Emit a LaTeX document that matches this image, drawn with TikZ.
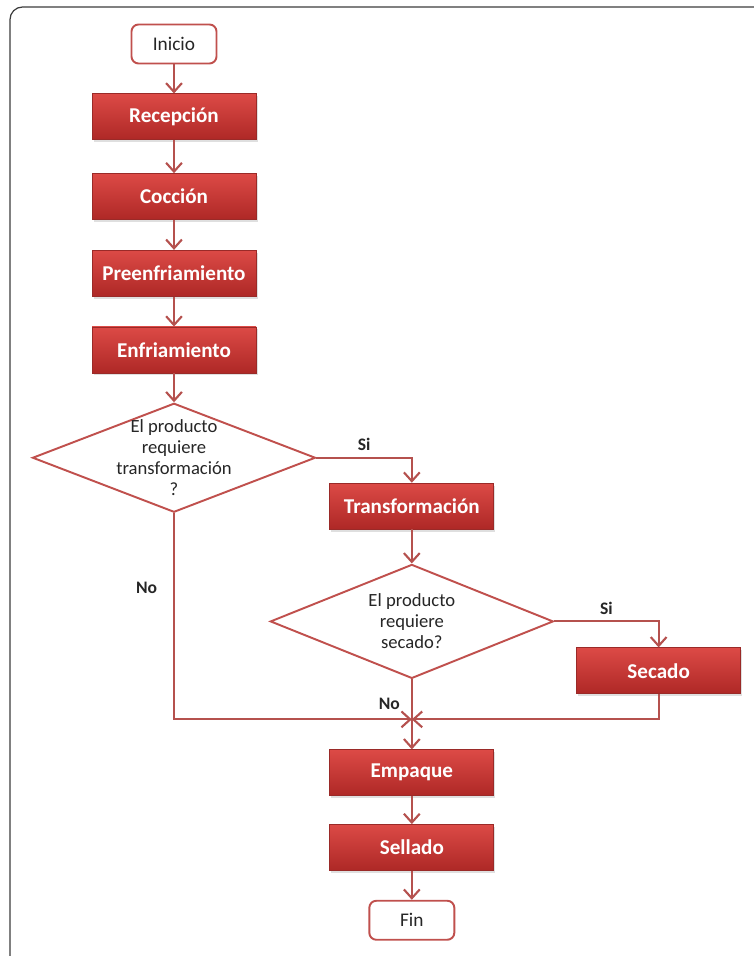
\documentclass[tikz,border=0pt]{standalone}
\usepackage{fontspec}
\setmainfont{Carlito}
\usetikzlibrary{arrows.meta,positioning,shapes.geometric,calc,shadows}
\definecolor{boxtop}{HTML}{DC4A46}
\definecolor{boxbot}{HTML}{AE2826}
\definecolor{boxedge}{HTML}{9A2A28}
\definecolor{accent}{HTML}{C0504D}
\definecolor{linered}{HTML}{B5514E}
\definecolor{bk90}{HTML}{262626}
\definecolor{framegray}{HTML}{3C3C3C}
\tikzset{
  procbox/.style={
    rectangle, draw=boxedge, top color=boxtop, bottom color=boxbot, thin,
    minimum width=3.28cm, minimum height=0.92cm,
    font=\fontsize{12}{14}\selectfont\bfseries, text=white, align=center,
    inner sep=3pt,
    drop shadow={opacity=0.25, shadow xshift=0.03cm, shadow yshift=-0.05cm}
  },
  termbox/.style={
    rectangle, rounded corners=4pt, draw=accent, fill=white, line width=1.1pt,
    minimum width=1.7cm, minimum height=0.78cm,
    font=\fontsize{11}{13}\selectfont, text=bk90, inner sep=3pt
  },
  decisionbox/.style={
    diamond, draw=accent, fill=white, line width=1.1pt, inner sep=0pt
  },
  decisiontext/.style={
    font=\fontsize{10.6}{12}\selectfont, text=bk90, align=center, inner sep=0pt
  },
  flowarrow/.style={
    -{Straight Barb[length=5pt, width=9pt]}, line width=1.2pt, color=#1
  },
  flowarrow/.default=linered,
  answer/.style={
    font=\fontsize{10}{12}\selectfont\bfseries, text=bk90
  },
}
\begin{document}
\begin{tikzpicture}
\useasboundingbox (0,0) rectangle (15.08,-19.12);
% marco de la pagina
\draw[framegray, line width=0.7pt, rounded corners=0.25cm] (0.2,-19.4) -- (0.2,-0.14) -- (15.4,-0.14);

\node[termbox] (inicio) at (3.48,-0.88) {Inicio};
\node[procbox, below=0.58cm of inicio] (recep) {Recepción};
\node[procbox, below=0.66cm of recep] (coccion) {Cocción};
\node[procbox, below=0.6cm of coccion] (preenf) {Preenfriamiento};
\node[procbox, below=0.6cm of preenf] (enfr) {Enfriamiento};
\node[decisionbox, minimum width=5.66cm, minimum height=2.18cm, below=0.58cm of enfr] (dtransf) {};
\node[decisiontext] (dtransftxt) at (dtransf) {El producto\\requiere\\transformación\\?};

\node[procbox, below right=0.5cm and 0.26cm of dtransf.east] (transf) {Transformación};
\node[decisionbox, minimum width=5.66cm, minimum height=2.28cm, below=0.68cm of transf] (dsecado) {};
\node[decisiontext] (dsecadotxt) at (dsecado) {El producto\\requiere\\secado?};
\node[procbox, below right=0.52cm and 0.44cm of dsecado.east] (secado) {Secado};

\node[procbox, below=1.4cm of dsecado] (empaque) {Empaque};
\node[procbox, below=0.56cm of empaque] (sellado) {Sellado};
\node[termbox, below=0.58cm of sellado] (fin) {Fin};
\coordinate[above=0.6cm of empaque.north] (junta);

\draw[flowarrow] (inicio) -- (recep);
\draw[flowarrow] (recep) -- (coccion);
\draw[flowarrow] (coccion) -- (preenf);
\draw[flowarrow] (preenf) -- (enfr);
\draw[flowarrow] (enfr) -- (dtransf);
\draw[flowarrow] (dtransf.east) -| (transf.north)
  node[answer, pos=0.25, above] (si1) {Si};
\draw[flowarrow] (transf) -- (dsecado);
\draw[flowarrow] (dsecado.east) -| (secado.north)
  node[answer, pos=0.25, above] (si2) {Si};
\draw[flowarrow] (dtransf.south) |- (junta)
  node[answer, pos=0.18, left=0.2cm] (no1) {No};
\draw[flowarrow] (secado.south) |- (junta);
\draw[flowarrow] (dsecado.south) -- (empaque.north)
  node[answer, pos=0.35, left=0.1cm] (no2) {No};
\draw[flowarrow] (empaque) -- (sellado);
\draw[flowarrow] (sellado) -- (fin);
\end{tikzpicture}
\end{document}
